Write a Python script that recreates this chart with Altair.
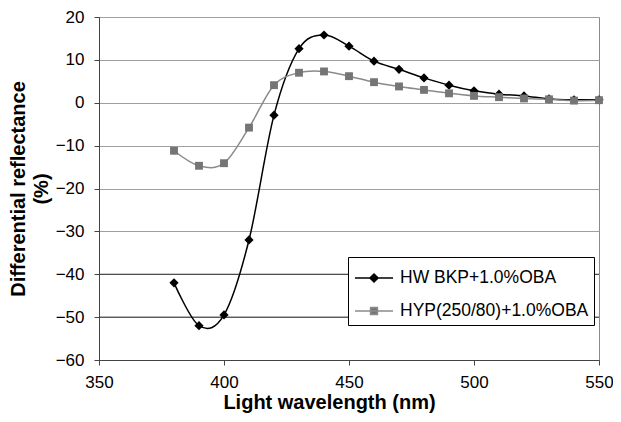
import altair as alt
import pandas as pd

wavelength = [380, 390, 400, 410, 420, 430, 440, 450, 460, 470, 480, 490, 500, 510, 520, 530, 540, 550]
hw_bkp = [-42.0, -52.0, -49.5, -32.0, -2.9, 12.6, 15.8, 13.2, 9.7, 7.8, 5.8, 4.1, 2.8, 2.0, 1.6, 0.9, 0.7, 0.7]
hyp = [-11.2, -14.7, -14.1, -5.8, 4.1, 7.0, 7.3, 6.2, 4.8, 3.8, 3.0, 2.2, 1.6, 1.3, 1.0, 0.8, 0.5, 0.6]
series_names = ["HW BKP+1.0%OBA", "HYP(250/80)+1.0%OBA"]
x_ticks = [350, 400, 450, 500, 550]
y_ticks = [-60, -50, -40, -30, -20, -10, 0, 10, 20]
dark_grid = [-40, -50]

rows = []
for w, v in zip(wavelength, hw_bkp):
    rows.append({"wavelength": w, "value": v, "series": series_names[0]})
for w, v in zip(wavelength, hyp):
    rows.append({"wavelength": w, "value": v, "series": series_names[1]})
df = pd.DataFrame(rows)
grid_df = pd.DataFrame({"value": dark_grid})

FONT = "Liberation Sans"
marker_colors = ["#000000", "#757575"]
line_colors = ["#000000", "#8a8a8a"]
marker_shapes = ["diamond", "square"]
marker_sizes = [85, 62]

xscale = alt.Scale(domain=[350, 550], nice=False)
yscale = alt.Scale(domain=[-60, 20], nice=False)
xaxis = alt.Axis(values=x_ticks, title="Light wavelength (nm)", grid=False,
                 labelFont=FONT, labelFontSize=17, labelColor="#000",
                 titleFont=FONT, titleFontSize=20, titleFontWeight="bold", titleColor="#000",
                 tickSize=5, tickColor="#444", domainColor="#444", labelPadding=9,
                 titleX=230, titleY=48, titleBaseline="alphabetic",
                 labelFlush=False, format="d")
yaxis = alt.Axis(values=y_ticks, title=["Differential reflectance", "(%)"], grid=True,
                 gridColor="#a0a0a0", gridWidth=1,
                 labelFont=FONT, labelFontSize=17, labelColor="#000",
                 titleFont=FONT, titleFontSize=20, titleFontWeight="bold", titleColor="#000",
                 tickSize=5, tickColor="#444", domainColor="#444", labelPadding=10,
                 titlePadding=4, titleLineHeight=23, labelFlush=False, format="d")

x = alt.X("wavelength:Q", scale=xscale, axis=xaxis)
y = alt.Y("value:Q", scale=yscale, axis=yaxis)

layers = [
    alt.Chart(grid_df).mark_rule(color="#333333", strokeWidth=1).encode(
        y=alt.Y("value:Q", scale=yscale, axis=yaxis)
    )
]

for i, name in enumerate(series_names):
    sub = alt.Chart(df).transform_filter(alt.datum.series == name)
    layers.append(sub.mark_line(interpolate="cardinal", strokeWidth=1.5, color=line_colors[i]).encode(x=x, y=y))
for i, name in enumerate(series_names):
    sub = alt.Chart(df).transform_filter(alt.datum.series == name)
    layers.append(sub.mark_point(shape=marker_shapes[i], filled=True, size=marker_sizes[i],
                                 opacity=1, color=marker_colors[i]).encode(x=x, y=y))

leg = alt.Legend(orient="none", legendX=249, legendY=240, title=None,
                 padding=5, strokeColor="#000", fillColor="#fff",
                 symbolSize=900, symbolStrokeWidth=1.5, symbolOffset=5, symbolOpacity=1,
                 labelOffset=10, rowPadding=8, labelFont=FONT, labelFontSize=17.5,
                 labelLimit=400, labelColor="#000", labelBaseline="middle")

path_diamond = "M-1.27,0H1.27M0,-0.27L0.27,0L0,0.27L-0.27,0Z"
path_square = "M-1.27,0H1.27M-0.23,-0.23H0.23V0.23H-0.23Z"

layers.append(
    alt.Chart(df).mark_point(filled=True, size=900, strokeWidth=1.5, opacity=0).encode(
        x=x, y=y,
        fill=alt.Fill("series:N", scale=alt.Scale(domain=series_names, range=marker_colors), legend=leg),
        stroke=alt.Stroke("series:N", scale=alt.Scale(domain=series_names, range=line_colors), legend=leg),
        shape=alt.Shape("series:N", scale=alt.Scale(domain=series_names, range=[path_diamond, path_square]), legend=leg),
    )
)

chart = alt.layer(*layers).properties(
    width=500, height=343,
    padding={"left": 91, "top": 9, "right": 14, "bottom": 54},
    autosize=alt.AutoSizeParams(type="none"),
    background="#ffffff",
).configure_view(stroke="#8a8a8a", strokeWidth=1)

chart.save("out.html", embed_options={"renderer": "svg", "actions": False})
